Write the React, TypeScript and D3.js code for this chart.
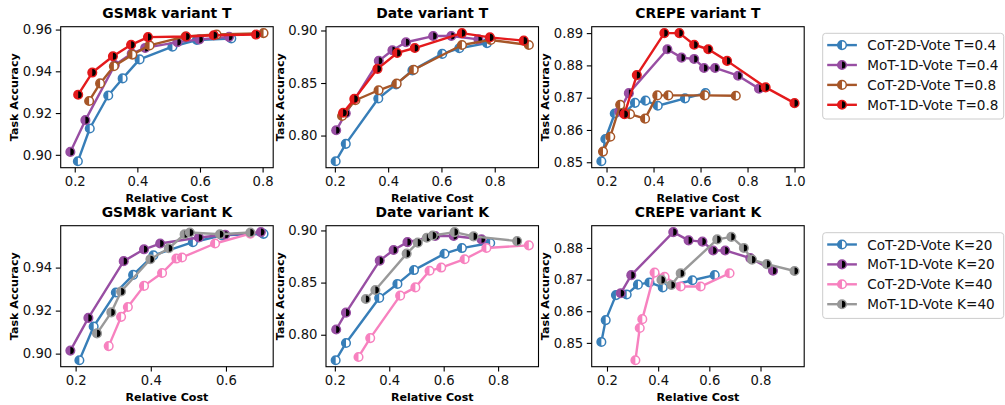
import * as d3 from 'd3';
import { useRef, useEffect } from "react"

type Pt = [number, number]

// relative cost, task accuracy
// GSM8k
const gsm8kCot: Pt[] = [[0.210, 0.8969], [0.248, 0.9126], [0.307, 0.9284], [0.353, 0.9366], [0.407, 0.9457], [0.512, 0.9518], [0.590, 0.9550], [0.700, 0.9557]]
const gsm8kMot: Pt[] = [[0.186, 0.9014], [0.234, 0.9166], [0.328, 0.9430], [0.382, 0.9485], [0.425, 0.9512], [0.528, 0.9540], [0.598, 0.9553], [0.693, 0.9565]]
const gsm8kCotT08: Pt[] = [[0.246, 0.9258], [0.281, 0.9342], [0.325, 0.9424], [0.384, 0.9480], [0.439, 0.9524], [0.554, 0.9567], [0.653, 0.9576], [0.803, 0.9583]]
const gsm8kMotT08: Pt[] = [[0.211, 0.9288], [0.256, 0.9394], [0.322, 0.9472], [0.380, 0.9527], [0.434, 0.9564], [0.556, 0.9567], [0.644, 0.9573], [0.779, 0.9576]]
const gsm8kCotK40: Pt[] = [[0.288, 0.9035], [0.321, 0.9171], [0.339, 0.9217], [0.382, 0.9315], [0.430, 0.9375], [0.468, 0.9442], [0.483, 0.9447], [0.571, 0.9512], [0.665, 0.9558]]
const gsm8kMotK40: Pt[] = [[0.257, 0.9094], [0.295, 0.9192], [0.321, 0.9289], [0.399, 0.9439], [0.448, 0.9490], [0.490, 0.9555], [0.504, 0.9563], [0.584, 0.9555], [0.665, 0.9563]]

// Date
const dateCot: Pt[] = [[0.203, 0.7755], [0.241, 0.7921], [0.363, 0.8353], [0.430, 0.8487], [0.491, 0.8620], [0.603, 0.8777], [0.667, 0.8831], [0.771, 0.8880]]
const dateMot: Pt[] = [[0.205, 0.8050], [0.241, 0.8212], [0.365, 0.8711], [0.416, 0.8812], [0.467, 0.8888], [0.569, 0.8947], [0.637, 0.8947], [0.739, 0.8915]]
const dateCotT08: Pt[] = [[0.227, 0.8186], [0.277, 0.8336], [0.364, 0.8431], [0.432, 0.8494], [0.496, 0.8626], [0.677, 0.8862], [0.785, 0.8910], [0.928, 0.8862]]
const dateMotT08: Pt[] = [[0.231, 0.8217], [0.273, 0.8349], [0.360, 0.8635], [0.434, 0.8786], [0.500, 0.8833], [0.677, 0.8975], [0.782, 0.8934], [0.909, 0.8903]]
const dateCotK40: Pt[] = [[0.287, 0.7787], [0.330, 0.7968], [0.440, 0.8375], [0.496, 0.8454], [0.548, 0.8613], [0.591, 0.8644], [0.677, 0.8724], [0.757, 0.8832], [0.913, 0.8857]]
const dateMotK40: Pt[] = [[0.314, 0.8343], [0.349, 0.8429], [0.464, 0.8778], [0.505, 0.8883], [0.538, 0.8930], [0.560, 0.8952], [0.640, 0.8984], [0.710, 0.8943], [0.870, 0.8898]]

// CREPE
const crepeCot: Pt[] = [[0.178, 0.8503], [0.195, 0.8572], [0.235, 0.8651], [0.277, 0.8653], [0.321, 0.8684], [0.366, 0.8691], [0.418, 0.8675], [0.534, 0.8698], [0.621, 0.8714]]
const crepeMot: Pt[] = [[0.254, 0.8657], [0.295, 0.8714], [0.459, 0.8850], [0.519, 0.8824], [0.573, 0.8820], [0.615, 0.8792], [0.662, 0.8792], [0.760, 0.8768], [0.849, 0.8728]]
const crepeCotT08: Pt[] = [[0.185, 0.8533], [0.216, 0.8579], [0.258, 0.8678], [0.300, 0.8649], [0.364, 0.8635], [0.416, 0.8707], [0.463, 0.8707], [0.618, 0.8707], [0.750, 0.8706]]
const crepeMotT08: Pt[] = [[0.276, 0.8649], [0.329, 0.8770], [0.446, 0.8900], [0.510, 0.8900], [0.573, 0.8864], [0.633, 0.8850], [0.713, 0.8814], [0.877, 0.8732], [1.000, 0.8683]]
const crepeCotK40: Pt[] = [[0.311, 0.8445], [0.328, 0.8547], [0.338, 0.8575], [0.386, 0.8722], [0.425, 0.8709], [0.488, 0.8678], [0.566, 0.8678], [0.679, 0.8720]]
const crepeMotK40: Pt[] = [[0.413, 0.8699], [0.452, 0.8683], [0.488, 0.8720], [0.631, 0.8827], [0.686, 0.8835], [0.735, 0.8800], [0.767, 0.8763], [0.825, 0.8749], [0.933, 0.8727]]

const titles = ["GSM8k variant T", "Date variant T", "CREPE variant T", "GSM8k variant K", "Date variant K", "CREPE variant K"]
const topLabels = ["CoT-2D-Vote T=0.4", "MoT-1D-Vote T=0.4", "CoT-2D-Vote T=0.8", "MoT-1D-Vote T=0.8"]
const bottomLabels = ["CoT-2D-Vote K=20", "MoT-1D-Vote K=20", "CoT-2D-Vote K=40", "MoT-1D-Vote K=40"]
const seriesKinds = ["cot", "mot", "cot", "mot"]

const xTicksA = [0.2, 0.4, 0.6, 0.8]
const xTicksB = [0.2, 0.4, 0.6, 0.8, 1.0]
const xTicksC = [0.2, 0.4, 0.6]
const yTicksGsmT = [0.90, 0.92, 0.94, 0.96]
const yTicksGsmK = [0.90, 0.92, 0.94]
const yTicksDate = [0.80, 0.85, 0.90]
const yTicksCrepeT = [0.85, 0.86, 0.87, 0.88, 0.89]
const yTicksCrepeK = [0.85, 0.86, 0.87, 0.88]

const topColors = ["#377eb8", "#984ea3", "#a65628", "#e41a1c"]
const bottomColors = ["#377eb8", "#984ea3", "#f781bf", "#999999"]

const panels = [
    { series: [gsm8kCot, gsm8kMot, gsm8kCotT08, gsm8kMotT08], xTicks: xTicksA, yTicks: yTicksGsmT },
    { series: [dateCot, dateMot, dateCotT08, dateMotT08], xTicks: xTicksA, yTicks: yTicksDate },
    { series: [crepeCot, crepeMot, crepeCotT08, crepeMotT08], xTicks: xTicksB, yTicks: yTicksCrepeT },
    { series: [gsm8kCot, gsm8kMot, gsm8kCotK40, gsm8kMotK40], xTicks: xTicksC, yTicks: yTicksGsmK },
    { series: [dateCot, dateMot, dateCotK40, dateMotK40], xTicks: xTicksA, yTicks: yTicksDate },
    { series: [crepeCot, crepeMot, crepeCotK40, crepeMotK40], xTicks: xTicksA, yTicks: yTicksCrepeK },
]

const FONT = "DejaVu Sans, sans-serif"
const R = 4.3

// half filled circle like matplotlib fillstyle='left'
function drawMarker(g: d3.Selection<any, any, any, any>, color: string, kind: string) {
    g.append("circle").attr("r", R).attr("fill", kind === "cot" ? "white" : "black")
    g.append("path").attr("d", `M0,${-R}A${R},${R} 0 0 0 0,${R}Z`).attr("fill", color)
    g.append("circle").attr("r", R).attr("fill", "none").attr("stroke", color).attr("stroke-width", 1.5)
}

function D3Panels() {
    const ref = useRef<SVGSVGElement | null>(null)

    useEffect(() => {
        renderChart();
    }, [])

    function renderChart() {
        const svg = d3.select(ref.current!)
        svg.selectAll("*").remove()

        const lefts = [60.7, 326, 591.7]
        const tops = [26.7, 225.7]
        const width = 212.5
        const height = 141

        panels.forEach((p, i) => {
            const left = lefts[i % 3]
            const top = tops[Math.floor(i / 3)]
            const colors = i < 3 ? topColors : bottomColors
            const all = p.series.flat()

            const xExt = d3.extent(all, d => d[0]) as [number, number]
            const yExt = d3.extent(all, d => d[1]) as [number, number]
            const xPad = (xExt[1] - xExt[0]) * 0.05
            const yPad = (yExt[1] - yExt[0]) * 0.05

            const x = d3.scaleLinear().domain([xExt[0] - xPad, xExt[1] + xPad]).range([0, width])
            const y = d3.scaleLinear().domain([yExt[0] - yPad, yExt[1] + yPad]).range([height, 0])

            const g = svg.append("g").attr("transform", `translate(${left},${top})`)

            // axes
            const xAxis = g.append("g")
                .attr("transform", `translate(0,${height})`)
                .call(d3.axisBottom(x).tickValues(p.xTicks).tickFormat(d3.format(".1f")).tickSizeOuter(0).tickSize(4.9).tickPadding(3.6))
            const yAxis = g.append("g")
                .call(d3.axisLeft(y).tickValues(p.yTicks).tickFormat(d3.format(".2f")).tickSizeOuter(0).tickSize(4.9).tickPadding(3.6))
            for (const ax of [xAxis, yAxis]) {
                ax.select(".domain").remove()
                ax.selectAll("line").attr("stroke", "black").attr("stroke-width", 1.1)
                ax.selectAll("text").attr("font-family", FONT).attr("font-size", 13.2).attr("fill", "#111")
            }

            // lines and markers
            const line = d3.line<Pt>().x(d => x(d[0])).y(d => y(d[1]))
            p.series.forEach((data, s) => {
                g.append("path")
                    .datum(data)
                    .attr("d", line)
                    .attr("fill", "none")
                    .attr("stroke", colors[s])
                    .attr("stroke-width", 2.4)
                    .attr("stroke-linejoin", "round")
                g.append("g")
                    .selectAll("g")
                    .data(data)
                    .join("g")
                    .attr("transform", d => `translate(${x(d[0])},${y(d[1])})`)
                    .each(function () { drawMarker(d3.select(this), colors[s], seriesKinds[s]) })
            })

            // frame
            g.append("rect")
                .attr("width", width).attr("height", height)
                .attr("fill", "none").attr("stroke", "black").attr("stroke-width", 1.1)

            g.append("text")
                .attr("x", width / 2).attr("y", -8.3)
                .attr("text-anchor", "middle")
                .attr("font-family", FONT).attr("font-size", 13.9).attr("font-weight", "bold")
                .text(titles[i])

            g.append("text")
                .attr("x", width / 2).attr("y", height + 34.5)
                .attr("text-anchor", "middle")
                .attr("font-family", FONT).attr("font-size", 11.1).attr("font-weight", "bold")
                .text("Relative Cost")

            g.append("text")
                .attr("transform", `translate(-46,${height / 2}) rotate(-90)`)
                .attr("text-anchor", "middle")
                .attr("dominant-baseline", "central")
                .attr("font-family", FONT).attr("font-size", 11.1).attr("font-weight", "bold")
                .text("Task Accuracy")
        })

        // legends
        const legends = [
            { labels: topLabels, colors: topColors, top: 33.3 },
            { labels: bottomLabels, colors: bottomColors, top: 232.7 },
        ]
        legends.forEach(l => {
            const lg = svg.append("g").attr("transform", `translate(822.7,${l.top})`)
            lg.append("rect")
                .attr("width", 181).attr("height", 85.7).attr("rx", 3)
                .attr("fill", "white").attr("stroke", "#cccccc").attr("stroke-width", 1)
            l.labels.forEach((label, k) => {
                const row = lg.append("g").attr("transform", `translate(0,${11.8 + k * 19.9})`)
                row.append("line").attr("x1", 4.5).attr("x2", 34.2)
                    .attr("stroke", l.colors[k]).attr("stroke-width", 2.4)
                drawMarker(row.append("g").attr("transform", "translate(19.3,0)"), l.colors[k], seriesKinds[k])
                row.append("text")
                    .attr("x", 44.6)
                    .attr("dominant-baseline", "central")
                    .attr("font-family", FONT).attr("font-size", 13.6).attr("fill", "#111")
                    .text(label)
            })
        })
    }

    return (
        <svg
            width={1005}
            height={405}
            ref={ref}
            style={{ position: 'absolute', left: 0, top: 0, background: 'white' }}
        />
    )
}

export default D3Panels;
